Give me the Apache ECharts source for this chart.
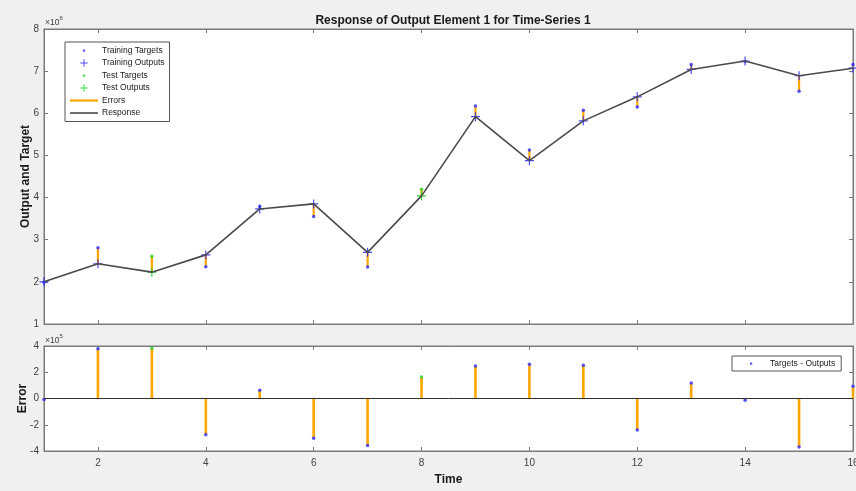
<!DOCTYPE html>
<html>
<head>
<meta charset="utf-8">
<script src="https://cdn.jsdelivr.net/npm/echarts@6/dist/echarts.min.js"></script>
<style>
html,body{margin:0;padding:0;background:#f0f0f0;}
#c{width:856px;height:491px;}
</style>
</head>
<body>
<div id="c"></div>
<script>
// ---- data ----
const time = [1, 2, 3, 4, 5, 6, 7, 8, 9, 10, 11, 12, 13, 14, 15, 16];
// outputs (x 1e6)
const outputs = [2.00, 2.43, 2.23, 2.64, 3.73, 3.85, 2.70, 4.04, 5.92, 4.875, 5.82, 6.39, 7.04, 7.24, 6.89, 7.07];
// targets (x 1e6)
const targets = [1.99, 2.81, 2.61, 2.36, 3.79, 3.55, 2.35, 4.20, 6.17, 5.13, 6.07, 6.15, 7.16, 7.23, 6.52, 7.16];
// errors = targets - outputs (x 1e5)
const errors = [-0.08, 3.79, 3.82, -2.76, 0.62, -3.02, -3.59, 1.63, 2.48, 2.61, 2.53, -2.40, 1.19, -0.13, -3.69, 0.93];
const testTimes = [3, 8];
const xTicks = [2, 4, 6, 8, 10, 12, 14, 16];

const isTest = t => testTimes.indexOf(t) >= 0;
const trainTargets = [], trainOutputs = [], testTargets = [], testOutputs = [];
const topStems = [], botStems = [], trainErr = [], testErr = [];
time.forEach((t, i) => {
  if (isTest(t)) { testTargets.push([t, targets[i]]); testOutputs.push([t, outputs[i]]); testErr.push([t, errors[i]]); }
  else { trainTargets.push([t, targets[i]]); trainOutputs.push([t, outputs[i]]); trainErr.push([t, errors[i]]); }
  topStems.push([t, outputs[i], targets[i]]);
  botStems.push([t, 0, errors[i]]);
});
const response = time.map((t, i) => [t, outputs[i]]);

const BLUE = '#2a2aff', GREEN = '#22d422', ORANGE = '#ffa500', RESP = '#4a4a4a';
const AX = '#7a7a7a', LBL = '#404040';
const FONT = '"Liberation Sans", Arial, Helvetica, sans-serif';
const PLUS = 'path://M4,0h1.2v9.2h-1.2zM0,4h9.2v1.2h-9.2z';
const DOT_ICON = 'path://M0,0M28,8M13,3h2.2v2.2h-2.2z';
const PLUS_ICON = 'path://M0,0M28,8M13.5,0.3h1v7.4h-1zM10.3,3.5h7.4v1h-7.4z';
const ERR_ICON = 'path://M0,0M28,8M0,2.9h28v2.2h-28z';
const RESP_ICON = 'path://M0,0M28,8M0,3.2h28v1.6h-28z';

function stem(params, api) {
  const a = api.coord([api.value(0), api.value(1)]);
  const b = api.coord([api.value(0), api.value(2)]);
  return { type: 'line', shape: { x1: a[0], y1: a[1], x2: b[0], y2: b[1] },
           style: { stroke: ORANGE, lineWidth: params.seriesIndex === 0 ? 2.2 : 2.6 } };
}

const tickStyle = { show: true, inside: true, length: 4, lineStyle: { color: AX, width: 1 } };
function xAx(grid, pos, labels, name) {
  return {
    type: 'value', gridIndex: grid, position: pos, min: 1, max: 16,
    axisLine: { show: true, onZero: false, lineStyle: { color: AX, width: 1 } },
    axisTick: Object.assign({ customValues: xTicks }, tickStyle),
    axisLabel: { show: labels, customValues: xTicks, color: LBL, fontSize: 10, fontFamily: FONT, margin: 7 },
    splitLine: { show: false },
    name: name || '', nameLocation: 'middle', nameGap: 23, nameMoveOverlap: false,
    nameTextStyle: { fontWeight: 'bold', fontSize: 12, color: '#1a1a1a', fontFamily: FONT }
  };
}
function yAx(grid, pos, labels, min, max, step, name, gap) {
  return {
    type: 'value', gridIndex: grid, position: pos, min: min, max: max, interval: step,
    axisLine: { show: true, onZero: false, lineStyle: { color: AX, width: 1 } },
    axisTick: tickStyle,
    axisLabel: { show: labels, color: LBL, fontSize: 10, fontFamily: FONT, margin: 5 },
    splitLine: { show: false },
    name: name || '', nameLocation: 'middle', nameGap: gap || 14, nameRotate: 90, nameMoveOverlap: false,
    nameTextStyle: { fontWeight: 'bold', fontSize: 12, color: '#1a1a1a', fontFamily: FONT }
  };
}

const chart = echarts.init(document.getElementById('c'), null, { renderer: 'canvas' });
chart.setOption({
  backgroundColor: '#f0f0f0',
  animation: false,
  textStyle: { fontFamily: FONT },
  title: {
    text: 'Response of Output Element 1 for Time-Series 1',
    left: 448, top: 10, textAlign: 'center',
    textStyle: { fontSize: 12, fontWeight: 'bold', color: '#1a1a1a', fontFamily: FONT }
  },
  grid: [
    { left: 44, top: 29, width: 809, height: 295, show: true, backgroundColor: '#fff', borderColor: AX, borderWidth: 1, outerBoundsMode: 'none' },
    { left: 44, top: 346, width: 809, height: 105, show: true, backgroundColor: '#fff', borderColor: AX, borderWidth: 1, outerBoundsMode: 'none' }
  ],
  xAxis: [
    xAx(0, 'bottom', false), xAx(0, 'top', false),
    xAx(1, 'bottom', true, 'Time'), xAx(1, 'top', false)
  ],
  yAxis: [
    yAx(0, 'left', true, 1, 8, 1, 'Output and Target', 12), yAx(0, 'right', false, 1, 8, 1),
    yAx(1, 'left', true, -4, 4, 2, 'Error', 15), yAx(1, 'right', false, -4, 4, 2)
  ],
  legend: [
    {
      orient: 'vertical', left: 65, top: 42, itemWidth: 28, itemHeight: 8, itemGap: 3.5,
      padding: [4, 5, 4, 5], backgroundColor: '#fff', borderColor: '#555', borderWidth: 1, borderRadius: 0,
      selectedMode: false,
      textStyle: { fontSize: 8.5, color: '#1a1a1a', fontFamily: FONT, padding: [0, 0, 0, -1] },
      data: [
        { name: 'Training Targets', icon: DOT_ICON },
        { name: 'Training Outputs', icon: PLUS_ICON },
        { name: 'Test Targets', icon: DOT_ICON },
        { name: 'Test Outputs', icon: PLUS_ICON },
        { name: 'Errors', icon: ERR_ICON },
        { name: 'Response', icon: RESP_ICON }
      ]
    },
    {
      orient: 'vertical', left: 732, top: 356, itemWidth: 28, itemHeight: 8,
      padding: [3, 6, 3, 5], backgroundColor: '#fff', borderColor: '#555', borderWidth: 1, borderRadius: 0,
      selectedMode: false,
      textStyle: { fontSize: 8.5, color: '#1a1a1a', fontFamily: FONT },
      data: [{ name: 'Targets - Outputs', icon: DOT_ICON }]
    }
  ],
  graphic: [
    { type: 'text', left: 45, top: 15, style: { text: '{a|\u00d710}{b|6}', rich: {
      a: { fontSize: 8.5, fill: LBL, fontFamily: FONT, verticalAlign: 'bottom' },
      b: { fontSize: 6, fill: LBL, fontFamily: FONT, verticalAlign: 'top', padding: [0, 0, 6, 0] } } } },
    { type: 'text', left: 45, top: 333, style: { text: '{a|\u00d710}{b|5}', rich: {
      a: { fontSize: 8.5, fill: LBL, fontFamily: FONT, verticalAlign: 'bottom' },
      b: { fontSize: 6, fill: LBL, fontFamily: FONT, verticalAlign: 'top', padding: [0, 0, 6, 0] } } } }
  ],
  series: [
    { name: 'Errors', type: 'custom', xAxisIndex: 0, yAxisIndex: 0, data: topStems,
      encode: { x: 0, y: [1, 2] }, renderItem: stem, itemStyle: { color: ORANGE }, z: 2 },
    { name: 'Training Targets', type: 'scatter', xAxisIndex: 0, yAxisIndex: 0, data: trainTargets,
      symbol: 'circle', symbolSize: 3.5, itemStyle: { color: BLUE }, z: 3 },
    { name: 'Training Outputs', type: 'scatter', xAxisIndex: 0, yAxisIndex: 0, data: trainOutputs,
      symbol: PLUS, symbolSize: 9, itemStyle: { color: BLUE, opacity: 0.85 }, z: 3 },
    { name: 'Test Targets', type: 'scatter', xAxisIndex: 0, yAxisIndex: 0, data: testTargets,
      symbol: 'circle', symbolSize: 3.5, itemStyle: { color: GREEN }, z: 3 },
    { name: 'Test Outputs', type: 'scatter', xAxisIndex: 0, yAxisIndex: 0, data: testOutputs,
      symbol: PLUS, symbolSize: 9, itemStyle: { color: GREEN, opacity: 0.9 }, z: 3 },
    { name: 'Response', type: 'line', xAxisIndex: 0, yAxisIndex: 0, data: response,
      symbol: 'none', lineStyle: { color: RESP, width: 1.6 }, itemStyle: { color: RESP }, z: 4 },
    { name: 'Error Stems', type: 'custom', xAxisIndex: 2, yAxisIndex: 2, data: botStems,
      encode: { x: 0, y: [1, 2] }, renderItem: stem, itemStyle: { color: ORANGE }, z: 2,
      markLine: { silent: true, symbol: 'none', label: { show: false },
        lineStyle: { color: '#303030', width: 1, type: 'solid' }, data: [{ yAxis: 0 }] } },
    { name: 'Targets - Outputs', type: 'scatter', xAxisIndex: 2, yAxisIndex: 2, data: trainErr,
      symbol: 'circle', symbolSize: 3.5, itemStyle: { color: BLUE }, z: 3 },
    { name: 'Test Errors', type: 'scatter', xAxisIndex: 2, yAxisIndex: 2, data: testErr,
      symbol: 'circle', symbolSize: 3.5, itemStyle: { color: GREEN }, z: 3 }
  ]
});
</script>
</body>
</html>
